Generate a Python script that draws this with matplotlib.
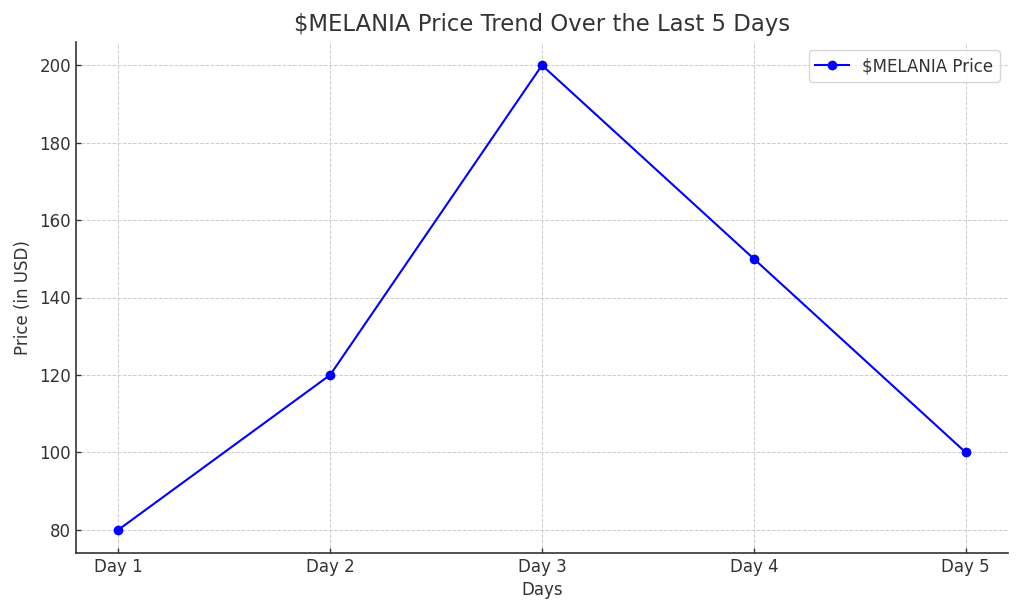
import matplotlib
matplotlib.use("Agg")
import matplotlib.pyplot as plt

days = ["Day 1", "Day 2", "Day 3", "Day 4", "Day 5"]
prices = [80, 120, 200, 150, 100]

txt = "#333333"
plt.rcParams.update({
    "font.family": "DejaVu Sans",
    "text.color": txt,
    "axes.labelcolor": txt,
    "xtick.color": txt,
    "ytick.color": txt,
    "xtick.direction": "in",
    "ytick.direction": "in",
})

fig = plt.figure(figsize=(10.24, 6.14), dpi=100)
ax = fig.add_axes([76/1024, 1 - 553/614, (1008-76)/1024, (553-42)/614])
ax.plot(days, prices, marker="o", color="blue", linewidth=1.5, markersize=6, label="$MELANIA Price")
ax.set_title("$MELANIA Price Trend Over the Last 5 Days", fontsize=16.4, color=txt, pad=8)
ax.set_xlabel("Days", fontsize=12)
ax.set_ylabel("Price (in USD)", fontsize=12, labelpad=5)
ax.tick_params(labelsize=12, width=1.0)
ax.grid(True, linestyle="--", color="#cccccc", linewidth=0.7)
for s in ["top", "right"]:
    ax.spines[s].set_visible(False)
for s in ["left", "bottom"]:
    ax.spines[s].set_color(txt)
    ax.spines[s].set_linewidth(1.2)
ax.legend(fontsize=12, loc="upper right")
fig.savefig("out.png", dpi=100)
